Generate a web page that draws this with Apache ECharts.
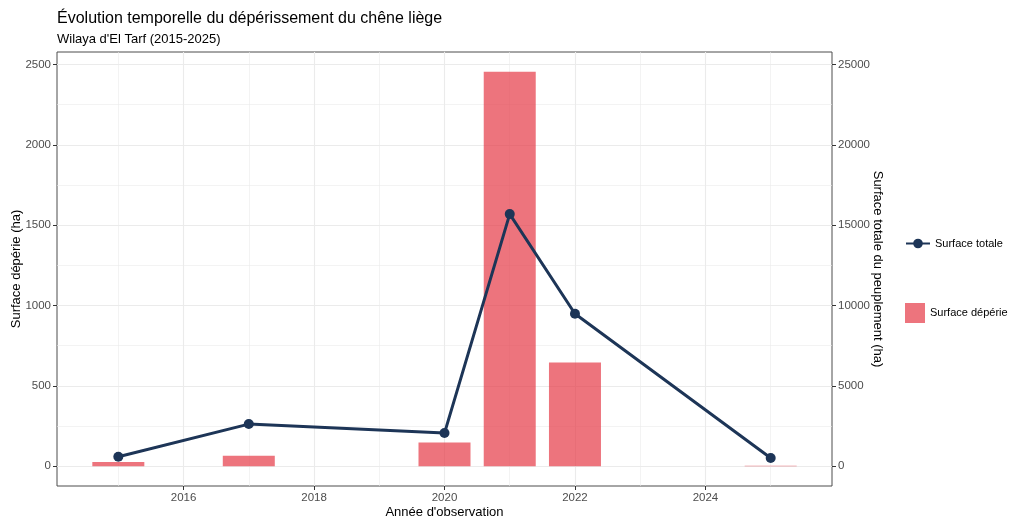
<!DOCTYPE html>
<html>
<head>
<meta charset="utf-8">
<script src="https://cdn.jsdelivr.net/npm/echarts@6/dist/echarts.min.js"></script>
<style>
html,body{margin:0;padding:0;background:#fff;}
#chart{width:1011px;height:519px;}
</style>
</head>
<body>
<div id="chart"></div>
<script>
// Data
var years = [2015, 2017, 2020, 2021, 2022, 2025];
var surfaceDeperie = [26, 65, 148, 2455, 646, 3];
var surfaceTotale = [590, 2625, 2065, 15690, 9490, 510];
var xTicks = [2016, 2018, 2020, 2022, 2024];
var xMinor = [2015, 2017, 2019, 2021, 2023, 2025];
var yTicksLeft = [0, 500, 1000, 1500, 2000, 2500];
var yMinorLeft = [250, 750, 1250, 1750, 2250];
var yTicksRight = [0, 5000, 10000, 15000, 20000, 25000];

var FONT = 'Liberation Sans, Arial, sans-serif';
var barData = years.map(function (y, i) { return [y, surfaceDeperie[i]]; });
var lineData = years.map(function (y, i) { return [y, surfaceTotale[i]]; });

var gridLines = [];
xTicks.forEach(function (v) { gridLines.push({ xAxis: v, lineStyle: { width: 1.1 } }); });
xMinor.forEach(function (v) { gridLines.push({ xAxis: v, lineStyle: { width: 0.6 } }); });
yTicksLeft.forEach(function (v) { gridLines.push({ yAxis: v, lineStyle: { width: 1.1 } }); });
yMinorLeft.forEach(function (v) { gridLines.push({ yAxis: v, lineStyle: { width: 0.6 } }); });

var plain = function (v) { return String(v); };
var axisLabelStyle = { color: '#4d4d4d', fontSize: 11.5, fontFamily: FONT, formatter: plain };
var axisNameStyle = { color: '#000', fontSize: 13, fontFamily: FONT };

var chart = echarts.init(document.getElementById('chart'), null, { renderer: 'canvas' });
chart.setOption({
  animation: false,
  backgroundColor: '#fff',
  title: {
    text: 'Évolution temporelle du dépérissement du chêne liège',
    subtext: "Wilaya d'El Tarf (2015-2025)",
    left: 52, top: 6, itemGap: 6,
    textStyle: { color: '#000', fontSize: 16, fontWeight: 'normal', fontFamily: FONT },
    subtextStyle: { color: '#000', fontSize: 13, fontFamily: FONT }
  },
  grid: {
    left: 57, right: 179, top: 52, bottom: 33,
    containLabel: false, outerBoundsMode: 'none',
    show: true, borderColor: '#4d4d4d', borderWidth: 1, backgroundColor: 'transparent'
  },
  legend: [
    {
      data: ['Surface totale'], orient: 'vertical', left: 905, top: 238, padding: 0,
      itemWidth: 24, itemHeight: 12, itemGap: 8,
      textStyle: { color: '#000', fontSize: 11, fontFamily: FONT }
    },
    {
      data: [{ name: 'Surface dépérie', icon: 'rect' }], orient: 'vertical', left: 905, top: 303, padding: 0,
      itemWidth: 20, itemHeight: 20,
      textStyle: { color: '#000', fontSize: 11, fontFamily: FONT }
    }
  ],
  xAxis: {
    type: 'value', min: 2014.06, max: 2025.94, position: 'bottom',
    name: "Année d'observation", nameLocation: 'middle', nameGap: 20, nameMoveOverlap: false,
    nameTextStyle: axisNameStyle,
    axisLine: { show: false, onZero: false },
    axisTick: { show: true, length: 4, lineStyle: { color: '#333' }, customValues: xTicks },
    axisLabel: Object.assign({ margin: 6, customValues: xTicks }, axisLabelStyle),
    splitLine: { show: false }
  },
  yAxis: [
    {
      type: 'value', min: -122.75, max: 2577.75, position: 'left',
      name: 'Surface dépérie (ha)', nameLocation: 'middle', nameGap: 34, nameMoveOverlap: false,
      nameTextStyle: axisNameStyle,
      axisLine: { show: false, onZero: false },
      axisTick: { show: true, length: 4, lineStyle: { color: '#333' }, customValues: yTicksLeft },
      axisLabel: Object.assign({ margin: 6, customValues: yTicksLeft }, axisLabelStyle),
      splitLine: { show: false }
    },
    {
      type: 'value', min: -1227.5, max: 25777.5, position: 'right',
      name: 'Surface totale du peuplement (ha)', nameLocation: 'middle', nameGap: 39, nameRotate: -90, nameMoveOverlap: false,
      nameTextStyle: axisNameStyle,
      axisLine: { show: false, onZero: false },
      axisTick: { show: true, length: 4, lineStyle: { color: '#333' }, customValues: yTicksRight },
      axisLabel: Object.assign({ margin: 6, customValues: yTicksRight }, axisLabelStyle),
      splitLine: { show: false }
    }
  ],
  series: [
    {
      name: '__grid', type: 'line', data: [], z: 0, silent: true,
      markLine: {
        silent: true, symbol: 'none', label: { show: false }, animation: false, z: 0,
        lineStyle: { color: '#ebebeb', type: 'solid' },
        emphasis: { disabled: true },
        data: gridLines
      }
    },
    {
      name: 'Surface dépérie', type: 'bar', data: barData, yAxisIndex: 0, barWidth: 52, z: 2,
      itemStyle: { color: 'rgba(230,57,70,0.7)' }
    },
    {
      name: 'Surface totale', type: 'line', data: lineData, yAxisIndex: 1, z: 3,
      symbol: 'circle', symbolSize: 10,
      lineStyle: { color: '#1d3557', width: 3 },
      itemStyle: { color: '#1d3557' }
    }
  ]
});
</script>
</body>
</html>
